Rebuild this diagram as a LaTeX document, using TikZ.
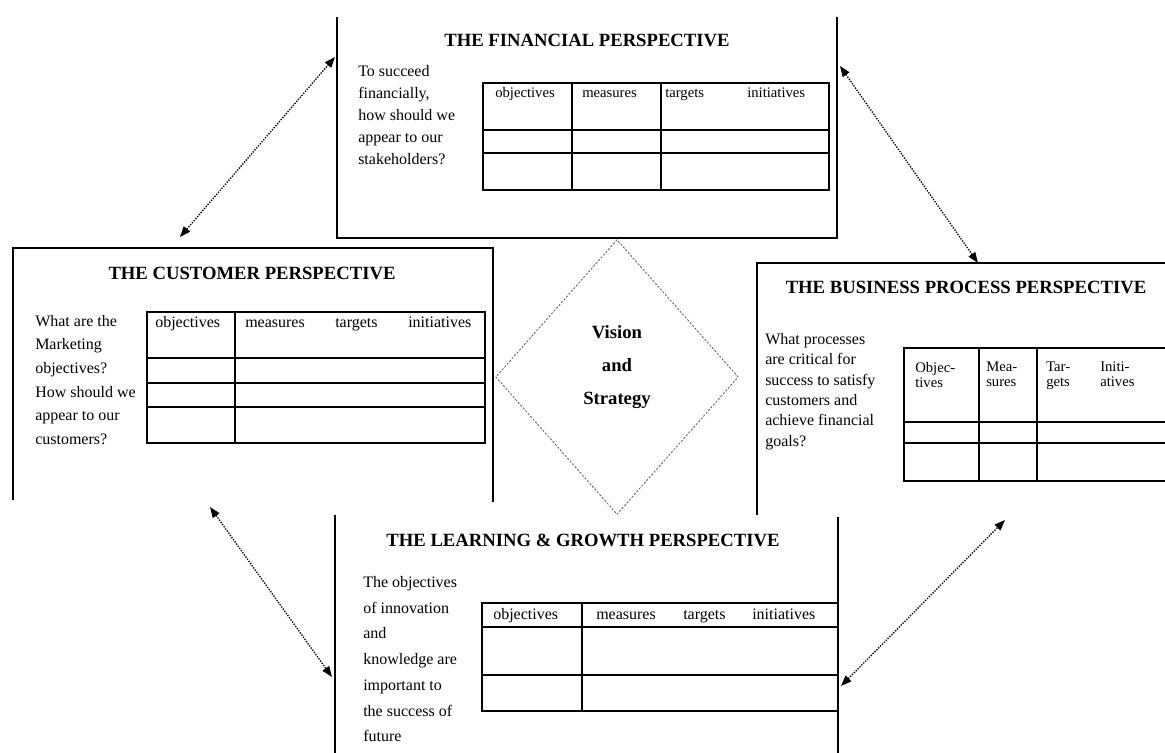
\documentclass[tikz,border=0pt]{standalone}
\usepackage{fontspec}
\setmainfont{Liberation Serif}
\usetikzlibrary{arrows.meta,shapes.geometric}

\tikzset{
  frame/.style={line width=1.3pt},
  grid/.style={line width=1.1pt},
  boxtitle/.style={inner sep=0pt, font=\fontsize{14}{16}\selectfont\bfseries},
  question/.style={anchor=north west, align=left, inner sep=0pt},
  colhead/.style={anchor=base west, inner sep=0pt, font=\fontsize{12}{13}\selectfont},
  link/.style={densely dotted, line width=1pt,
    {Triangle[length=8pt,width=6pt]}-{Triangle[length=8pt,width=6pt]}}
}

\begin{document}
\begin{tikzpicture}[x=0.75pt,y=-0.75pt]
\useasboundingbox (0,0) rectangle (1165,753);

% financial perspective
\draw[frame] (337,17) -- (337,238) -- (837,238) -- (837,17);
\node[boxtitle] (finT) at (587,40) {THE FINANCIAL PERSPECTIVE};
\node[question, font=\fontsize{12}{16.5}\selectfont] (finQ) at (358,65)
  {To succeed\\financially,\\how should we\\appear to our\\stakeholders?};
\draw[grid] (483,83) rectangle (829,190);
\draw[grid] (483,130) -- (829,130) (483,153) -- (829,153);
\draw[grid] (572,83) -- (572,190) (661,83) -- (661,190);
\node[colhead, font=\fontsize{11}{12}\selectfont] (finH1) at (495,97) {objectives};
\node[colhead, font=\fontsize{11}{12}\selectfont] (finH2) at (582,97) {measures};
\node[colhead, font=\fontsize{11}{12}\selectfont] (finH3) at (665,97) {targets};
\node[colhead, font=\fontsize{11}{12}\selectfont] (finH4) at (747,97) {initiatives};

% customer perspective
\draw[frame] (13,500) -- (13,248) -- (493,248) -- (493,502);
\node[boxtitle] (custT) at (252,273) {THE CUSTOMER PERSPECTIVE};
\node[question, font=\fontsize{12}{17.7}\selectfont] (custQ) at (35,315)
  {What are the\\Marketing\\objectives?\\How should we\\appear to our\\customers?};
\draw[grid] (147,312) rectangle (485,443);
\draw[grid] (147,358) -- (485,358) (147,383) -- (485,383) (147,407) -- (485,407);
\draw[grid] (235,312) -- (235,443);
\node[colhead] (custH1) at (155,327) {objectives};
\node[colhead] (custH2) at (245,327) {measures};
\node[colhead] (custH3) at (335,327) {targets};
\node[colhead] (custH4) at (408,327) {initiatives};

% business process perspective
\draw[frame] (757,515) -- (757,263) -- (1165,263);
\node[boxtitle] (busT) at (966,287) {THE BUSINESS PROCESS PERSPECTIVE};
\node[question, font=\fontsize{12}{15.3}\selectfont] (busQ) at (765,333)
  {What processes\\are critical for\\success to satisfy\\customers and\\achieve financial\\goals?};
\draw[grid] (1165,348) -- (904,348) -- (904,481) -- (1165,481);
\draw[grid] (904,422) -- (1165,422) (904,443) -- (1165,443);
\draw[grid] (979,348) -- (979,481) (1037,348) -- (1037,481);
\node[colhead, align=left, anchor=north west, font=\fontsize{11}{11}\selectfont] (busH1) at (915,362) {Objec-\\tives};
\node[colhead, align=left, anchor=north west, font=\fontsize{11}{11}\selectfont] (busH2) at (986,362) {Mea-\\sures};
\node[colhead, align=left, anchor=north west, font=\fontsize{11}{11}\selectfont] (busH3) at (1046,362) {Tar-\\gets};
\node[colhead, align=left, anchor=north west, font=\fontsize{11}{11}\selectfont] (busH4) at (1100,362) {Initi-\\atives};

% learning and growth perspective
\draw[frame] (335,753) -- (335,515);
\draw[frame] (838,517) -- (838,753);
\node[boxtitle] (learnT) at (583,540) {THE LEARNING \& GROWTH PERSPECTIVE};
\node[question, font=\fontsize{12}{19.3}\selectfont] (learnQ) at (363,576)
  {The objectives\\of innovation\\and\\knowledge are\\important to\\the success of\\future};
\draw[grid] (482,603) rectangle (838,711);
\draw[grid] (482,627) -- (838,627) (482,675) -- (838,675);
\draw[grid] (582,603) -- (582,711);
\node[colhead] (learnH1) at (493,619) {objectives};
\node[colhead] (learnH2) at (596,619) {measures};
\node[colhead] (learnH3) at (683,619) {targets};
\node[colhead] (learnH4) at (752,619) {initiatives};

% vision and strategy
\node[diamond, draw=black!65, dash pattern=on 1.6pt off 1.2pt, line width=0.6pt,
  aspect=0.88, minimum width=182pt, minimum height=206pt, inner sep=0pt] (vision) at (617,377) {};
\node[align=center, inner sep=0pt, font=\fontsize{14}{24.75}\selectfont\bfseries] (visionT) at (617,367)
  {Vision\\and\\Strategy};

% links between perspectives
\coordinate (custNE) at (180,237);
\coordinate (finW) at (335,57);
\coordinate (finE) at (840,66);
\coordinate (busN) at (978,263);
\coordinate (custSE) at (210,507);
\coordinate (learnW) at (332,677);
\coordinate (learnE) at (841,686);
\coordinate (busS) at (1005,520);
\draw[link] (custNE) -- (finW);
\draw[link] (finE) -- (busN);
\draw[link] (custSE) -- (learnW);
\draw[link] (learnE) -- (busS);
\end{tikzpicture}
\end{document}
